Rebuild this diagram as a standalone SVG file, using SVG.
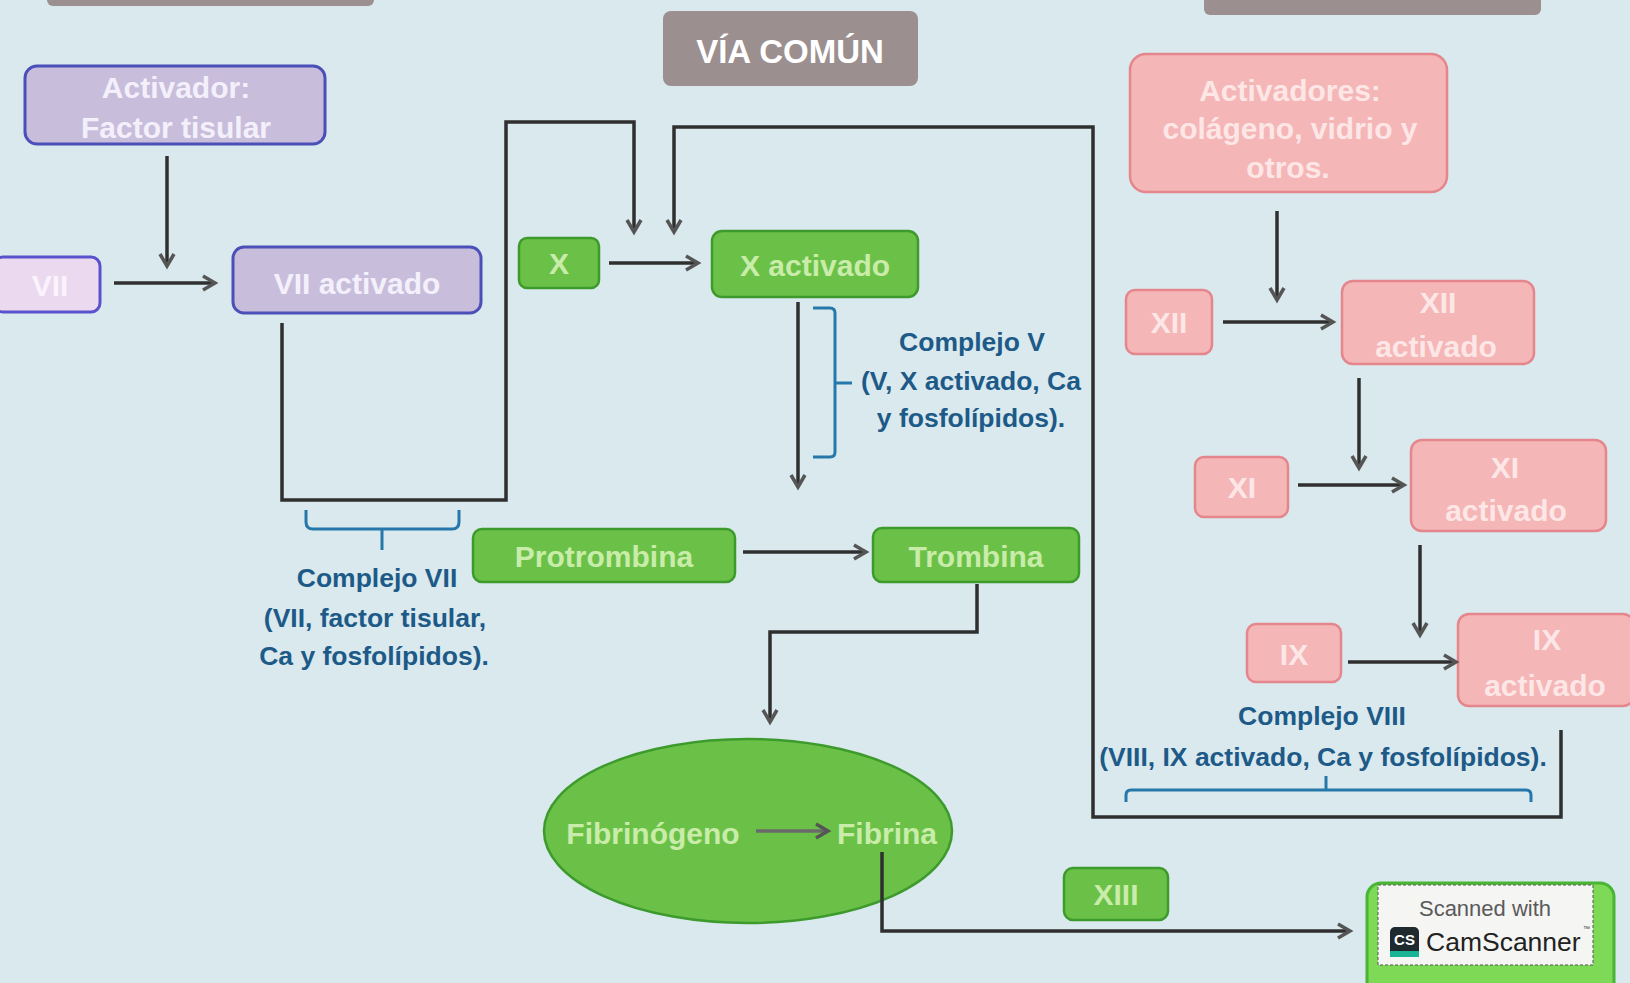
<svg xmlns="http://www.w3.org/2000/svg" width="1630" height="983" viewBox="0 0 1630 983">
  <defs>
    <style>
      text { font-family: 'Liberation Sans', Arial, sans-serif; font-weight: bold; }
      .box-t { font-size: 30px; text-anchor: middle; dominant-baseline: central; }
      .lbl { font-size: 26.5px; fill: #1d5a88; text-anchor: middle; dominant-baseline: central; }
      .purple rect { fill: #c8bedc; stroke: #4b4fb8; stroke-width: 3; }
      .purple text { fill: #f4f0fb; }
      .green rect, .green ellipse { fill: #6bc147; stroke: #3d9a2c; stroke-width: 2.5; }
      .green text { fill: #c9ecaa; }
      .pink rect { fill: #f4b6b7; stroke: #e4868c; stroke-width: 2.5; }
      .pink text { fill: #fde6e6; }
      .gray rect { fill: #9c8f8f; }
      .gray text { fill: #ffffff; }
      .conn path { fill: none; stroke: #2f2f2f; stroke-width: 3.5; stroke-linejoin: miter; }
      .brace path { fill: none; stroke: #2678aa; stroke-width: 3; }
    </style>
    <marker id="arrow" markerUnits="userSpaceOnUse" markerWidth="20" markerHeight="20" refX="15" refY="10" orient="auto">
      <path d="M3,3 L15,10 L3,17" fill="none" stroke="#555" stroke-width="3.5" stroke-linejoin="miter"/>
    </marker>
  </defs>

  <!-- page background -->
  <rect x="0" y="0" width="1630" height="983" fill="#d9e9ee"/>

  <!-- header tabs (top edge) -->
  <g id="header-left" class="gray"><rect x="47" y="-30" width="327" height="36" rx="6"/></g>
  <g id="header-right" class="gray"><rect x="1204" y="-30" width="337" height="45" rx="6"/></g>
  <g id="via-comun" class="gray">
    <rect x="663" y="11" width="255" height="75" rx="8"/>
    <text class="box-t" x="790" y="51" style="font-size:33px">VÍA COMÚN</text>
  </g>

  <!-- extrinsic pathway -->
  <g id="activador" class="purple">
    <rect x="25" y="66" width="300" height="78" rx="12"/>
    <text class="box-t" x="176" y="87">Activador:</text>
    <text class="box-t" x="176" y="127">Factor tisular</text>
  </g>
  <g id="vii" class="purple">
    <rect x="-6" y="257" width="106" height="55" rx="9" style="fill:#ead9ef;stroke:#5a52cc"/>
    <text class="box-t" x="50" y="285" style="fill:#fbf3fc">VII</text>
  </g>
  <g id="vii-activado" class="purple">
    <rect x="233" y="247" width="248" height="66" rx="11"/>
    <text class="box-t" x="357" y="283">VII activado</text>
  </g>

  <!-- common pathway -->
  <g id="x" class="green">
    <rect x="519" y="238" width="80" height="50" rx="8"/>
    <text class="box-t" x="559" y="263">X</text>
  </g>
  <g id="x-activado" class="green">
    <rect x="712" y="231" width="206" height="66" rx="10"/>
    <text class="box-t" x="815" y="265">X activado</text>
  </g>
  <g id="protrombina" class="green">
    <rect x="473" y="529" width="262" height="53" rx="9"/>
    <text class="box-t" x="604" y="556">Protrombina</text>
  </g>
  <g id="trombina" class="green">
    <rect x="873" y="528" width="206" height="54" rx="9"/>
    <text class="box-t" x="976" y="556">Trombina</text>
  </g>
  <g id="fibrina" class="green">
    <ellipse cx="748" cy="831" rx="204" ry="92"/>
    <text class="box-t" x="653" y="833">Fibrinógeno</text>
    <text class="box-t" x="887" y="833">Fibrina</text>
  </g>
  <g id="xiii" class="green">
    <rect x="1064" y="868" width="104" height="52" rx="9"/>
    <text class="box-t" x="1116" y="894">XIII</text>
  </g>
  <g id="clot" class="green">
    <rect x="1367" y="883" width="247" height="115" rx="14" style="fill:#7ed957;stroke:#48b535;stroke-width:3"/>
  </g>

  <!-- intrinsic pathway -->
  <g id="activadores" class="pink">
    <rect x="1130" y="54" width="317" height="138" rx="16"/>
    <text class="box-t" x="1290" y="90">Activadores:</text>
    <text class="box-t" x="1290" y="128">colágeno, vidrio y</text>
    <text class="box-t" x="1288" y="167">otros.</text>
  </g>
  <g id="xii" class="pink">
    <rect x="1126" y="290" width="86" height="64" rx="9"/>
    <text class="box-t" x="1169" y="322">XII</text>
  </g>
  <g id="xii-activado" class="pink">
    <rect x="1342" y="281" width="192" height="83" rx="11"/>
    <text class="box-t" x="1438" y="302">XII</text>
    <text class="box-t" x="1436" y="346">activado</text>
  </g>
  <g id="xi" class="pink">
    <rect x="1195" y="457" width="93" height="60" rx="9"/>
    <text class="box-t" x="1242" y="487">XI</text>
  </g>
  <g id="xi-activado" class="pink">
    <rect x="1411" y="440" width="195" height="91" rx="11"/>
    <text class="box-t" x="1505" y="467">XI</text>
    <text class="box-t" x="1506" y="510">activado</text>
  </g>
  <g id="ix" class="pink">
    <rect x="1247" y="624" width="94" height="58" rx="9"/>
    <text class="box-t" x="1294" y="654">IX</text>
  </g>
  <g id="ix-activado" class="pink">
    <rect x="1458" y="614" width="176" height="92" rx="11"/>
    <text class="box-t" x="1547" y="639">IX</text>
    <text class="box-t" x="1545" y="685">activado</text>
  </g>

  <!-- complex labels -->
  <g id="complejo-vii">
    <text class="lbl" x="377" y="578">Complejo VII</text>
    <text class="lbl" x="375" y="618">(VII, factor tisular,</text>
    <text class="lbl" x="374" y="656">Ca y fosfolípidos).</text>
  </g>
  <g id="complejo-v">
    <text class="lbl" x="972" y="342">Complejo V</text>
    <text class="lbl" x="971" y="381">(V, X activado, Ca</text>
    <text class="lbl" x="971" y="418">y fosfolípidos).</text>
  </g>
  <g id="complejo-viii">
    <text class="lbl" x="1322" y="716">Complejo VIII</text>
    <text class="lbl" x="1323" y="757">(VIII, IX activado, Ca y fosfolípidos).</text>
  </g>

  <!-- braces -->
  <g id="braces" class="brace">
    <path d="M306,510 L306,522 Q306,529 313,529 L452,529 Q459,529 459,522 L459,510 M382,529 L382,550"/>
    <path d="M813,308 L830,308 Q835,308 835,313 L835,452 Q835,457 830,457 L813,457 M835,383 L852,383"/>
    <path d="M1126,802 L1126,795 Q1126,790 1131,790 L1526,790 Q1531,790 1531,795 L1531,802 M1326,790 L1326,776"/>
  </g>

  <!-- connectors -->
  <g id="connectors" class="conn">
    <path d="M167,156 L167,266" marker-end="url(#arrow)"/>
    <path d="M114,283 L215,283" marker-end="url(#arrow)"/>
    <path d="M282,323 L282,500 L506,500 L506,122 L634,122 L634,232" marker-end="url(#arrow)"/>
    <path d="M1561,730 L1561,817 L1093,817 L1093,127 L674,127 L674,232" marker-end="url(#arrow)"/>
    <path d="M609,263 L698,263" marker-end="url(#arrow)"/>
    <path d="M798,302 L798,487" marker-end="url(#arrow)"/>
    <path d="M743,552 L866,552" marker-end="url(#arrow)"/>
    <path d="M977,584 L977,632 L770,632 L770,722" marker-end="url(#arrow)"/>
    <path d="M756,831 L828,831" style="stroke:#6a6a6a" marker-end="url(#arrow)"/>
    <path d="M882,852 L882,931 L1350,931" marker-end="url(#arrow)"/>
    <path d="M1277,211 L1277,300" marker-end="url(#arrow)"/>
    <path d="M1223,322 L1333,322" marker-end="url(#arrow)"/>
    <path d="M1359,378 L1359,468" marker-end="url(#arrow)"/>
    <path d="M1298,485 L1404,485" marker-end="url(#arrow)"/>
    <path d="M1420,545 L1420,635" marker-end="url(#arrow)"/>
    <path d="M1348,662 L1456,662" marker-end="url(#arrow)"/>
  </g>

  <!-- scanner stamp -->
  <g id="scanner-stamp">
    <rect x="1378" y="885" width="215" height="80" fill="#f5f5f4" stroke="#555" stroke-width="1" stroke-dasharray="3,2"/>
    <text x="1485" y="908" font-size="22" fill="#5a5a5a" text-anchor="middle" dominant-baseline="central" style="font-weight:normal">Scanned with</text>
    <rect x="1390" y="927" width="29" height="30" rx="5" fill="#1f2a2e"/>
    <rect x="1390" y="951" width="29" height="6" fill="#18b495"/>
    <text x="1404.5" y="939" font-size="15" fill="#ffffff" text-anchor="middle" dominant-baseline="central">CS</text>
    <text x="1426" y="942" font-size="26.5" fill="#222" dominant-baseline="central" style="font-weight:normal">CamScanner</text>
    <text x="1583" y="931" font-size="7" fill="#444" style="font-weight:normal">™</text>
  </g>
</svg>
